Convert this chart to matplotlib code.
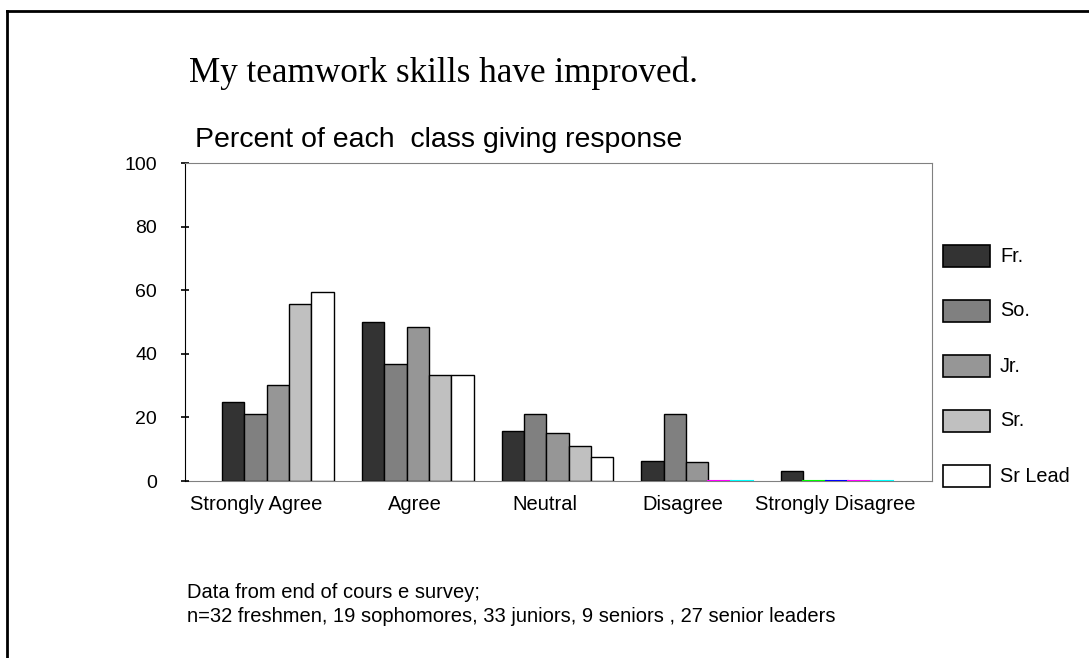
import matplotlib
matplotlib.use("Agg")
import matplotlib.pyplot as plt
import matplotlib.transforms as mtransforms
import numpy as np
from matplotlib.patches import Rectangle

# survey responses, percent of each class
categories = ["Strongly Agree", "Agree", "Neutral", "Disagree", "Strongly Disagree"]
classes = ["Fr.", "So.", "Jr.", "Sr.", "Sr Lead"]
fr = [25.0, 50.0, 15.6, 6.3, 3.1]
so = [21.1, 36.8, 21.1, 21.1, 0.0]
jr = [30.3, 48.5, 15.2, 6.1, 0.0]
sr = [55.6, 33.3, 11.1, 0.0, 0.0]
sr_lead = [59.3, 33.3, 7.4, 0.0, 0.0]
yticks = [0, 20, 40, 60, 80, 100]

series = [fr, so, jr, sr, sr_lead]
fills = ["#333333", "#808080", "#969696", "#c0c0c0", "#ffffff"]
# zero bars show up as coloured lines in the original
zero_colors = ["#000000", "#00ff00", "#0000ff", "#ff00ff", "#00ffff"]

sans = ["Liberation Sans", "DejaVu Sans"]
serif = ["Liberation Serif", "DejaVu Serif"]

fig = plt.figure(figsize=(10.89, 6.58), dpi=100)
W, H = 1089, 658

# outer frame (top and left only)
fig.add_artist(plt.Line2D([7 / W, 1], [1 - 11 / H, 1 - 11 / H], color="black", lw=2))
fig.add_artist(plt.Line2D([7 / W, 7 / W], [0, 1 - 11 / H], color="black", lw=2))

ax = fig.add_axes([185 / W, 1 - 481 / H, (932 - 185) / W, (481 - 163) / H])

x = np.arange(len(categories))
bw = 0.16
for i, vals in enumerate(series):
    pos = x + (i - 2) * bw
    for p, v in zip(pos, vals):
        if v > 0:
            ax.bar(p, v, bw, color=fills[i], edgecolor="black", linewidth=1)
        else:
            ax.plot([p - bw / 2, p + bw / 2], [0.15, 0.15], color=zero_colors[i], lw=1.5)

ax.set_xlim(-0.665, 4.68)
ax.set_ylim(0, 100)
ax.set_yticks(yticks)
ax.set_yticklabels([str(t) for t in yticks], family=sans, fontsize=14)
ax.set_xticks(x)
ax.set_xticklabels(categories, family=sans, fontsize=14.5)
ax.tick_params(axis="y", direction="inout", length=6, width=1.2, pad=17)
ax.tick_params(axis="x", length=0, pad=10)

# the original labels sit a little left of their groups
shifts = [-22, -3, -13, -14, -2]
for lab, dx in zip(ax.get_xticklabels(), shifts):
    lab.set_transform(lab.get_transform() + mtransforms.ScaledTranslation(dx / 100, 0, fig.dpi_scale_trans))

for s in ["top", "right", "bottom"]:
    ax.spines[s].set_color("#808080")
ax.spines["left"].set_color("black")
ax.spines["bottom"].set_zorder(0)

fig.text(189 / W, 1 - 82 / H, "My teamwork skills have improved.", family=serif,
         fontsize=25.3, va="baseline", ha="left")
fig.text(195 / W, 1 - 147 / H, "Percent of each  class giving response", family=sans,
         fontsize=20.5, va="baseline", ha="left")

# legend drawn by hand to match spacing
for i, name in enumerate(classes):
    yc = 256 + i * 55
    fig.add_artist(Rectangle((943 / W, 1 - (yc + 11) / H), 47 / W, 22 / H,
                             facecolor=fills[i], edgecolor="black", lw=1.2,
                             transform=fig.transFigure))
    fig.text(1000 / W, 1 - yc / H, name, family=sans, fontsize=14.3, va="center", ha="left")

fig.text(187 / W, 1 - 593 / H, "Data from end of cours e survey;", family=sans,
         fontsize=14.5, va="center", ha="left")
fig.text(187 / W, 1 - 617 / H,
         "n=32 freshmen, 19 sophomores, 33 juniors, 9 seniors , 27 senior leaders",
         family=sans, fontsize=14.5, va="center", ha="left")

fig.savefig("out.png", dpi=100)
